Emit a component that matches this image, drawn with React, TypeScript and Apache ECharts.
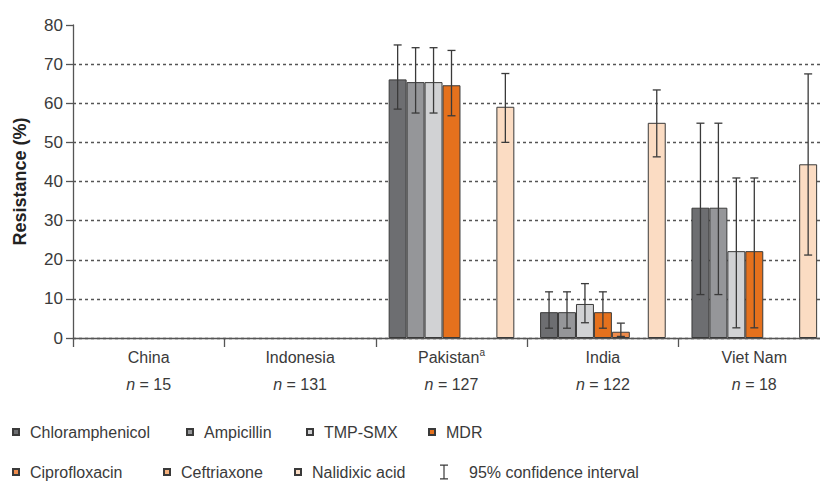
import React, { useEffect, useRef } from "react";
import * as echarts from "echarts";

const categories = ["China", "Indonesia", "Pakistan", "India", "Viet Nam"];
const sampleSizes = ["15", "131", "127", "122", "18"];
const drugNames = [
  "Chloramphenicol",
  "Ampicillin",
  "TMP-SMX",
  "MDR",
  "Ciprofloxacin",
  "Ceftriaxone",
  "Nalidixic acid",
];
const drugColors = ["#6d6e71", "#959699", "#d1d2d4", "#e5711d", "#ef8c4c", "#f5b07c", "#fbdcc3"];

// values per drug, per country (null = no bar)
const chloramphenicol = [null, null, 66.1, 6.6, 33.3];
const ampicillin = [null, null, 65.4, 6.6, 33.3];
const tmpSmx = [null, null, 65.4, 8.7, 22.2];
const mdr = [null, null, 64.6, 6.6, 22.2];
const ciprofloxacin = [null, null, null, 1.6, null];
const ceftriaxone = [null, null, null, null, null];
const nalidixic = [null, null, 59.1, 55.0, 44.4];

// 95% CI [lower, upper] per drug, per country
const chloramphenicolCI = [null, null, [58.5, 74.9], [2.5, 11.8], [11.1, 54.9]];
const ampicillinCI = [null, null, [57.5, 74.2], [2.5, 11.8], [11.1, 54.9]];
const tmpSmxCI = [null, null, [57.5, 74.2], [3.9, 13.9], [2.6, 40.9]];
const mdrCI = [null, null, [56.8, 73.5], [2.5, 11.8], [2.6, 40.9]];
const ciprofloxacinCI = [null, null, null, [0.4, 3.8], null];
const ceftriaxoneCI = [null, null, null, null, null];
const nalidixicCI = [null, null, [50.0, 67.6], [46.3, 63.4], [21.2, 67.5]];

const yTicks = [0, 10, 20, 30, 40, 50, 60, 70, 80];

const FONT = "'Liberation Sans', Arial, sans-serif";
const TXT = "#3a3a3a";
const CAT_GAP = 0.17;

export default function App() {
  const ref = useRef<HTMLDivElement>(null);
  useEffect(() => {
    document.body.style.margin = "0";
    document.body.style.overflow = "hidden";
    if (!ref.current) return;
    const chart = echarts.init(ref.current, undefined, { renderer: "svg" });
    const values = [chloramphenicol, ampicillin, tmpSmx, mdr, ciprofloxacin, ceftriaxone, nalidixic];
    const cis = [chloramphenicolCI, ampicillinCI, tmpSmxCI, mdrCI, ciprofloxacinCI, ceftriaxoneCI, nalidixicCI];
    const n = drugNames.length;

    const barSeries = drugNames.map((name, i) => ({
      name,
      type: "bar",
      barGap: "0%",
      barCategoryGap: CAT_GAP * 100 + "%",
      data: values[i].map((v) => (v == null ? "-" : v)),
      itemStyle: { color: drugColors[i], borderColor: "#3a3a3a", borderWidth: 1 },
      z: 2,
    }));

    const errData: number[][] = [];
    cis.forEach((arr, s) => {
      arr.forEach((ci, c) => {
        if (ci) errData.push([c, s, ci[0], ci[1]]);
      });
    });

    const errSeries = {
      name: "95% confidence interval",
      type: "custom",
      data: errData,
      encode: { x: 0, y: [2, 3] },
      itemStyle: { color: "#3a3a3a" },
      z: 5,
      renderItem: (params: any, api: any) => {
        const c = api.value(0);
        const s = api.value(1);
        const lo = api.value(2);
        const hi = api.value(3);
        const bandW = api.size([1, 0])[0];
        const total = bandW * (1 - CAT_GAP);
        const bw = total / n;
        const center = api.coord([c, 0])[0];
        const x = center - total / 2 + bw * (s + 0.5);
        const yLo = api.coord([c, lo])[1];
        const yHi = api.coord([c, hi])[1];
        const cap = 4;
        const style = { stroke: "#3a3a3a", lineWidth: 1.3 };
        return {
          type: "group",
          children: [
            { type: "line", shape: { x1: x, y1: yLo, x2: x, y2: yHi }, style },
            { type: "line", shape: { x1: x - cap, y1: yHi, x2: x + cap, y2: yHi }, style },
            { type: "line", shape: { x1: x - cap, y1: yLo, x2: x + cap, y2: yLo }, style },
          ],
        };
      },
    };

    const legendPos: { name: string; left: number; top: number }[] = [
      { name: drugNames[0], left: 12, top: 421 },
      { name: drugNames[1], left: 186, top: 421 },
      { name: drugNames[2], left: 306, top: 421 },
      { name: drugNames[3], left: 428, top: 421 },
      { name: drugNames[4], left: 12, top: 461 },
      { name: drugNames[5], left: 163, top: 461 },
      { name: drugNames[6], left: 294, top: 461 },
    ];
    const legends: any[] = legendPos.map((p) => ({
      data: [{ name: p.name, icon: "rect" }],
      left: p.left,
      top: p.top,
      padding: 0,
      itemWidth: 6,
      itemHeight: 6,
      selectedMode: false,
      textStyle: { fontFamily: FONT, fontSize: 16, color: TXT, lineHeight: 22, padding: [0, 0, 0, 6] },
    }));
    legends.push({
      data: [
        {
          name: "95% confidence interval",
          icon: "path://M0,0 L8,0 L8,1.2 L4.6,1.2 L4.6,13.8 L8,13.8 L8,15 L0,15 L0,13.8 L3.4,13.8 L3.4,1.2 L0,1.2 Z",
        },
      ],
      left: 440,
      top: 461,
      padding: 0,
      itemWidth: 8,
      itemHeight: 15,
      selectedMode: false,
      textStyle: { fontFamily: FONT, fontSize: 16, color: TXT, lineHeight: 22, padding: [0, 0, 0, 16] },
    });

    chart.setOption({
      animation: false,
      grid: { left: 73, right: 0, top: 25, bottom: 146, containLabel: false },
      legend: legends,
      xAxis: {
        type: "category",
        data: categories,
        axisLine: { lineStyle: { color: "#555", width: 1.3 } },
        axisTick: { show: true, length: 9, lineStyle: { color: "#555", width: 1.3 } },
        axisLabel: {
          margin: 6,
          interval: 0,
          formatter: (v: string, idx: number) => {
            const first = v === "Pakistan" ? "{c|Pakistan}{sup|a}" : "{c|" + v + "}";
            return first + "\n{i|n}{c| = " + sampleSizes[idx] + "}";
          },
          rich: {
            c: { fontFamily: FONT, fontSize: 16, color: TXT, lineHeight: 27 },
            i: { fontFamily: FONT, fontSize: 16, fontStyle: "italic", color: TXT, lineHeight: 27 },
            sup: { fontFamily: FONT, fontSize: 10, color: TXT, lineHeight: 27, padding: [0, 0, 10, 0] },
          },
        },
      },
      yAxis: {
        type: "value",
        min: 0,
        max: 80,
        interval: 10,
        name: "Resistance (%)",
        nameLocation: "middle",
        nameRotate: 90,
        nameGap: 44,
        nameTextStyle: { fontFamily: FONT, fontSize: 18, fontWeight: "bold", color: "#222" },
        axisLine: { show: true, lineStyle: { color: "#555", width: 1.3 } },
        axisTick: { show: true, length: 7, lineStyle: { color: "#555", width: 1.3 } },
        axisLabel: {
          margin: 10,
          fontFamily: FONT,
          fontSize: 17,
          color: TXT,
          formatter: (v: number) => (yTicks.indexOf(v) >= 0 ? String(v) : ""),
        },
        splitLine: {
          show: true,
          lineStyle: {
            type: [3, 3],
            width: 1.3,
            color: ["#555", "#555", "#555", "#555", "#555", "#555", "#555", "#555", "rgba(0,0,0,0)"],
          },
        },
      },
      series: [...barSeries, errSeries],
    });
    return () => chart.dispose();
  }, []);
  return (
    <div style={{ width: 820, height: 484, overflow: "hidden", position: "relative" }}>
      <div ref={ref} style={{ width: 830, height: 484 }} />
    </div>
  );
}
